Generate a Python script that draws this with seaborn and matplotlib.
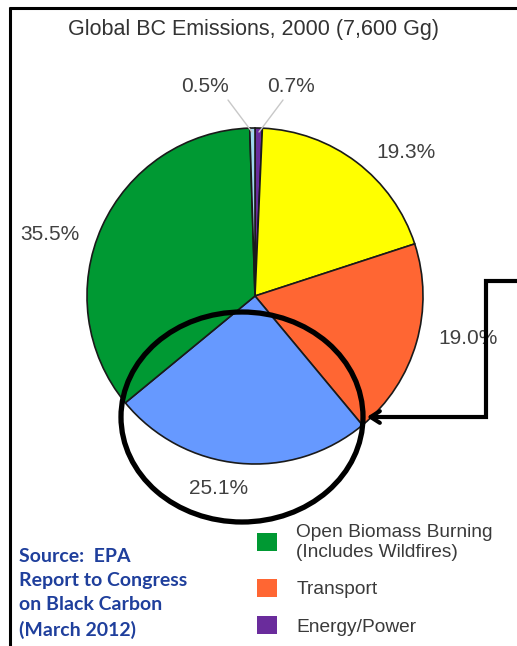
import matplotlib
matplotlib.use("Agg")
import matplotlib.pyplot as plt
from matplotlib.patches import Ellipse, Patch
import seaborn as sns

# Data (clockwise from 12 o'clock)
sectors = ["Energy/Power", "Residential", "Transport", "Industry",
           "Open Biomass Burning\n(Includes Wildfires)", "Other"]
shares = [0.7, 19.3, 19.0, 25.1, 35.5, 0.5]
share_labels = ["0.7%", "19.3%", "19.0%", "25.1%", "35.5%", "0.5%"]
colors = ["#6a2c9c", "#ffff00", "#ff6633", "#6699ff", "#009933", "#9fd6ee"]
legend_sectors = ["Open Biomass Burning\n(Includes Wildfires)", "Transport", "Energy/Power"]
legend_colors = ["#009933", "#ff6633", "#6a2c9c"]

title = "Global BC Emissions, 2000 (7,600 Gg)"
source = "Source:  EPA\nReport to Congress\non Black Carbon\n(March 2012)"

sns.set_theme(style="white")
plt.rcParams["font.family"] = ["Liberation Sans", "DejaVu Sans"]

W, H = 517, 646
fig = plt.figure(figsize=(W / 100, H / 100), dpi=100)
ax = fig.add_axes([0, 0, 1, 1])

# pie in pixel space (y axis inverted, so angles are mirrored)
wedges, _ = ax.pie(shares, colors=colors, center=(255, 296), radius=168,
                   startangle=-90, counterclock=True,
                   wedgeprops=dict(edgecolor="#1a1a1a", linewidth=1.2))
ax.set_xlim(0, W)
ax.set_ylim(H, 0)
ax.set_aspect("auto")
ax.axis("off")

txt_color = "#404040"
label_pos = [(291, 86), (406, 152), (468, 339), (219, 488), (50, 234), (205, 86)]
for lab, (x, y) in zip(share_labels, label_pos):
    ax.text(x, y, lab, ha="center", va="center", fontsize=15, color=txt_color)

# leader lines for tiny slices
ax.plot([228, 252], [100, 132], color="#c8c8c8", lw=1)
ax.plot([283, 259], [100, 132], color="#c8c8c8", lw=1)

ax.text(254, 30, title, ha="center", va="center", fontsize=15.5, color="#333333")

# highlight ellipse and arrow
ax.add_patch(Ellipse((242, 417), 242, 210, fill=False, ec="black", lw=3.8, zorder=5))
ax.plot([W + 5, 486, 486, 372], [281, 281, 417, 417], color="black", lw=3,
        solid_joinstyle="miter", zorder=5)
ax.annotate("", xy=(364, 417), xytext=(380, 417),
            arrowprops=dict(arrowstyle="->,head_length=0.55,head_width=0.35",
                            color="black", lw=3), zorder=6)

# frame lines
ax.plot([9, W + 5], [7.5, 7.5], color="black", lw=2.2, solid_capstyle="butt")
ax.plot([9.5, 9.5], [7, H + 5], color="black", lw=2.2, solid_capstyle="butt")

# source note
ax.text(19, 548, source, ha="left", va="top", fontsize=14, fontweight="bold",
        color="#1f3f9c", family=["Lato", "DejaVu Sans"], linespacing=1.5)

handles = [Patch(facecolor=c, edgecolor="none") for c in legend_colors]
leg = ax.legend(handles, legend_sectors, loc="upper left",
                bbox_to_anchor=(257 / W, 1 - 524 / H), bbox_transform=fig.transFigure,
                frameon=False, fontsize=13.8, handlelength=1.05, handleheight=1.05,
                handletextpad=1.0, labelspacing=0.95, borderpad=0, borderaxespad=0)
for t in leg.get_texts():
    t.set_color("#3a3a3a")

fig.savefig("out.png", dpi=100)
